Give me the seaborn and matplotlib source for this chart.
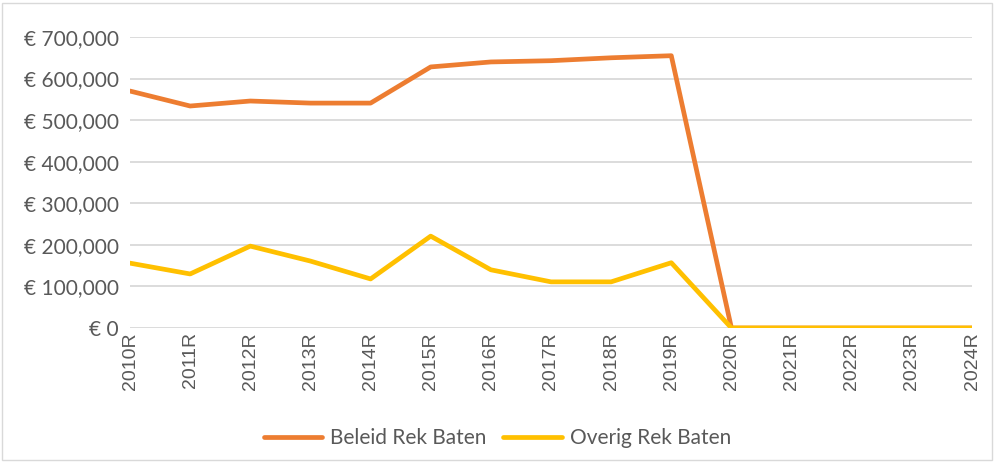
import matplotlib
matplotlib.use("Agg")
import matplotlib.pyplot as plt
import seaborn as sns
import pandas as pd
from matplotlib.ticker import FuncFormatter
from matplotlib.patches import Rectangle

years = ["2010R", "2011R", "2012R", "2013R", "2014R", "2015R", "2016R", "2017R",
         "2018R", "2019R", "2020R", "2021R", "2022R", "2023R", "2024R"]
beleid = [570000, 534000, 546000, 541000, 541000, 628000, 640000, 643000,
          650000, 655000, 0, 0, 0, 0, 0]
overig = [156000, 130000, 197000, 161000, 118000, 221000, 140000, 111000,
          111000, 157000, 0, 0, 0, 0, 0]
series_names = ["Beleid Rek Baten", "Overig Rek Baten"]
colors = ["#ED7D31", "#FFC000"]

df = pd.DataFrame({
    "jaar": years * 2,
    "waarde": beleid + overig,
    "reeks": [series_names[0]] * len(years) + [series_names[1]] * len(years),
})

sns.set_theme(style="white")
plt.rcParams["font.family"] = ["Lato", "DejaVu Sans"]
text_col = "#595959"

fig = plt.figure(figsize=(9.95, 4.62), dpi=100)
ax = fig.add_axes([130/995, 1-328/462, (972-130)/995, (328-37)/462])

sns.lineplot(data=df, x="jaar", y="waarde", hue="reeks", palette=colors,
             linewidth=3.4, ax=ax, sort=False, legend=True)

ax.set_xlim(0, len(years) - 1)
ax.set_ylim(0, 700000)
ax.set_yticks(range(0, 700001, 100000))
ax.yaxis.set_major_formatter(FuncFormatter(lambda v, p: "€ 0" if v == 0 else f"€ {int(v):,}"))
ax.grid(axis="y", color="#D9D9D9", linewidth=1.3)
ax.set_axisbelow(True)
for s in ax.spines.values():
    s.set_visible(False)
ax.set_xlabel("")
ax.set_ylabel("")
ax.tick_params(axis="y", labelsize=15, colors=text_col, length=0, pad=8)
ax.tick_params(axis="x", length=0, pad=3)
for lbl in ax.get_xticklabels():
    lbl.set_rotation(90)
    lbl.set_fontfamily(["Liberation Sans", "DejaVu Sans"])
    lbl.set_fontsize(14)
    lbl.set_color(text_col)

handles, labels = ax.get_legend_handles_labels()
ax.legend(handles, labels, loc="center", bbox_to_anchor=(0.5, 1-438/462),
          bbox_transform=fig.transFigure, ncol=2, frameon=False,
          fontsize=15, labelcolor=text_col, handlelength=2.8, columnspacing=0.8,
          handletextpad=0.4)
for line in ax.get_legend().get_lines():
    line.set_linewidth(3.4)

fig.patches.append(Rectangle((2/995, 2/462), 990/995, 457/462, transform=fig.transFigure,
                             fill=False, edgecolor="#D9D9D9", linewidth=1))

fig.savefig("out.png", dpi=100)
